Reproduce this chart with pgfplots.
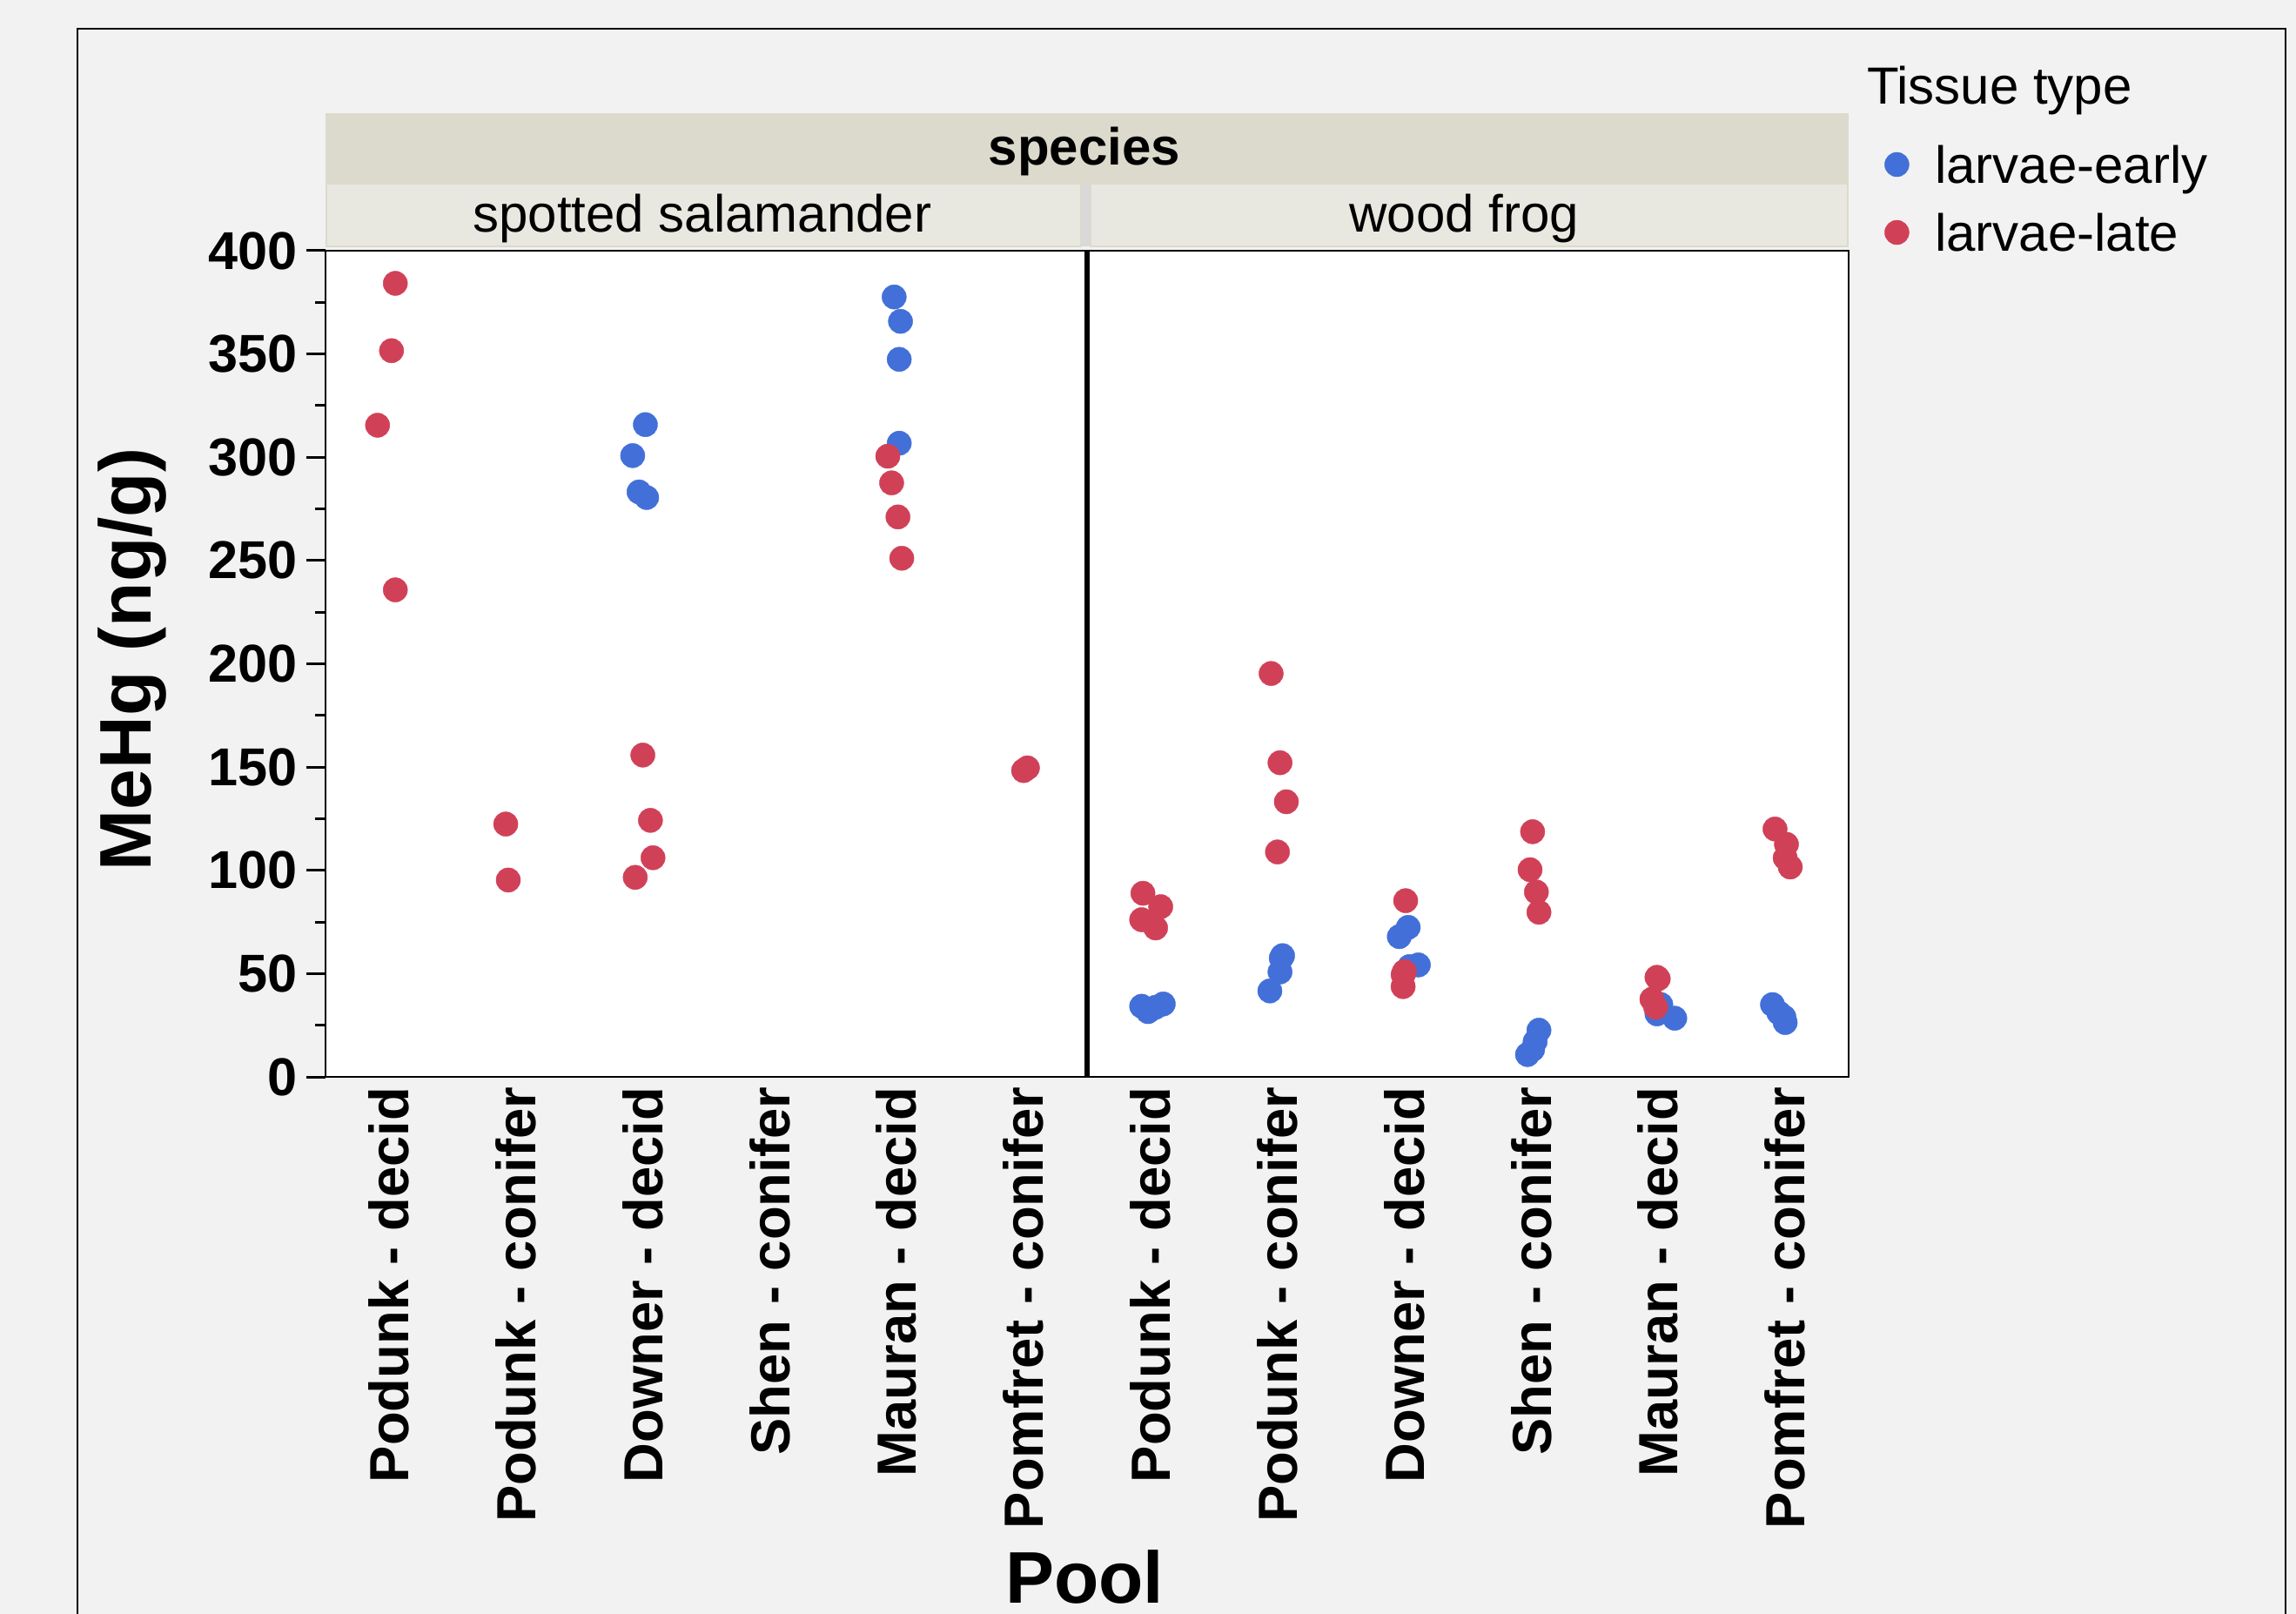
\documentclass[border=0pt]{standalone}
\usepackage{pgfplots}
\pgfplotsset{compat=1.18}
\usepackage{fontspec}
\setmainfont{Liberation Sans}
\definecolor{bg}{HTML}{F2F2F2}
\definecolor{bandA}{HTML}{DBDACC}
\definecolor{bandB}{HTML}{E8E8E0}
\definecolor{gapc}{HTML}{D9D9D9}
\definecolor{earlyc}{RGB}{66,112,216}
\definecolor{latec}{RGB}{208,65,88}
\begin{document}
\begin{tikzpicture}
\useasboundingbox (0,0) rectangle (659.5pt,463.5pt);
\fill[bg] (0,0) rectangle (659.5pt,463.5pt);
\draw[line width=0.5pt] (22.25pt,0) -- (22.25pt,455.25pt) -- (656.5pt,455.25pt) -- (656.5pt,0);
% strip headers
\fill[bandA] (93.5pt,411pt) rectangle (531pt,431.1pt);
\fill[gapc] (310.5pt,392.75pt) rectangle (313.2pt,411pt);
\filldraw[fill=bandB, draw=bandA, line width=0.5pt] (93.75pt,392.75pt) rectangle (310.5pt,410.75pt);
\filldraw[fill=bandB, draw=bandA, line width=0.5pt] (313.2pt,392.75pt) rectangle (530.75pt,410.75pt);
\node[anchor=base, inner sep=0pt, font=\fontsize{15}{18}\selectfont\bfseries] at (311.5pt,416pt) {species};
\node[anchor=base, inner sep=0pt, font=\fontsize{15}{18}\selectfont] at (201.7pt,396.8pt) {spotted salamander};
\node[anchor=base, inner sep=0pt, font=\fontsize{15}{18}\selectfont] at (420.6pt,396.8pt) {wood frog};
\node[anchor=base west, inner sep=0pt, font=\fontsize{15}{18}\selectfont] at (536.1pt,433.7pt) {Tissue type};
\begin{axis}[
  at={(93.5pt,154.25pt)}, anchor=south west,
  scale only axis, width=437.5pt, height=237.25pt,
  xmin=-0.5, xmax=11.5, ymin=0, ymax=400,
  clip=false,
  axis background/.style={fill=white},
  axis line style={line width=0.7pt},
  xtick={0,1,2,3,4,5,6,7,8,9,10,11},
  xticklabels={Podunk - decid, Podunk - conifer, Downer - decid, Shen - conifer, Mauran - decid, Pomfret - conifer, Podunk - decid, Podunk - conifer, Downer - decid, Shen - conifer, Mauran - decid, Pomfret - conifer},
  xtick pos=bottom, ytick pos=left,
  tick style={black, line width=0.75pt},
  xtick style={draw=none},
  ytick={0,50,...,400},
  minor ytick={25,75,...,375},
  tick align=outside,
  major tick length=5.5pt, minor tick length=3pt,
  /pgf/number format/assume math mode=true,
  yticklabel style={font=\fontsize{15.3}{18}\selectfont\bfseries, inner sep=0pt, anchor=east, xshift=-2.5pt},
  xticklabel style={font=\fontsize{15.85}{18}\selectfont\bfseries, inner sep=0pt, yshift=2.75pt, rotate=90, anchor=east},
  xlabel={Pool}, ylabel={MeHg (ng/g)},
  every axis x label/.style={at={(axis description cs:0.4983,-0.6367)}, anchor=base, inner sep=0pt, font=\fontsize{21}{25}\selectfont\bfseries},
  every axis y label/.style={at={(axis description cs:-0.1147,0.5053)}, rotate=90, anchor=base, inner sep=0pt, font=\fontsize{21}{25}\selectfont\bfseries},
  legend cell align=left,
  legend image code/.code={\draw[mark repeat=1,#1] plot coordinates {(0pt,0pt)};},
  legend style={at={(axis description cs:1.02366,1.12708)}, anchor=north west, draw=none, fill=none, inner sep=0pt, outer sep=0pt, row sep=8.7pt, column sep=7.4pt, font=\fontsize{15}{18}\selectfont, nodes={inner sep=0pt, text height=10.8pt, text depth=0pt}},
]
\addplot[only marks, mark=*, mark size=3.5pt, color=earlyc, mark options={fill=earlyc, draw=earlyc, line width=0.1pt}] coordinates {
  (2.02,315.8) (1.92,300.8) (1.97,283.2) (2.03,280.5)
  (3.98,377.6) (4.03,365.8) (4.02,347.4) (4.02,306.8)
  (5.93,34.2) (5.98,31.6) (6.04,33.7) (6.10,35.3)
  (7.04,58.7) (7.03,57.5) (7.02,50.8) (6.94,41.6)
  (8.03,72.4) (7.96,67.9) (8.11,54.2) (8.04,53.4)
  (9.06,22.6) (9.03,17.1) (9.01,13.2) (8.97,10.8)
  (10.01,33.7) (9.99,30.5) (10.13,28.4) (10.02,35.0)
  (10.90,35.0) (10.95,31.0) (11.00,26.3) (10.99,29.0)
};
\addlegendentry{larvae-early}
\addplot[only marks, mark=*, mark size=3.5pt, color=latec, mark options={fill=latec, draw=latec, line width=0.1pt}] coordinates {
  (0.05,384.2) (0.02,351.6) (-0.09,315.5) (0.05,235.8)
  (0.92,122.4) (0.94,95.3)
  (2.00,155.8) (2.06,124.2) (2.08,106.1) (1.94,96.6)
  (3.93,300.5) (3.96,287.6) (4.01,271.1) (4.04,251.1)
  (5.00,148.3) (5.03,149.6)
  (5.94,88.9) (6.08,82.4) (5.93,76.1) (6.04,72.1)
  (6.95,195.3) (7.02,152.1) (7.07,133.2) (7.00,108.9)
  (8.01,85.3) (7.99,49.5) (8.00,51.0) (7.99,43.7)
  (9.01,118.7) (8.99,100.3) (9.04,89.5) (9.06,79.7)
  (9.99,48.2) (10.00,47.5) (9.95,37.6) (9.98,33.7)
  (10.92,120.0) (11.01,112.6) (11.00,106.0) (11.04,101.6)
};
\addlegendentry{larvae-late}
\draw[line width=1.5pt] (axis cs:5.5,0) -- (axis cs:5.5,400);
\end{axis}
\end{tikzpicture}
\end{document}
